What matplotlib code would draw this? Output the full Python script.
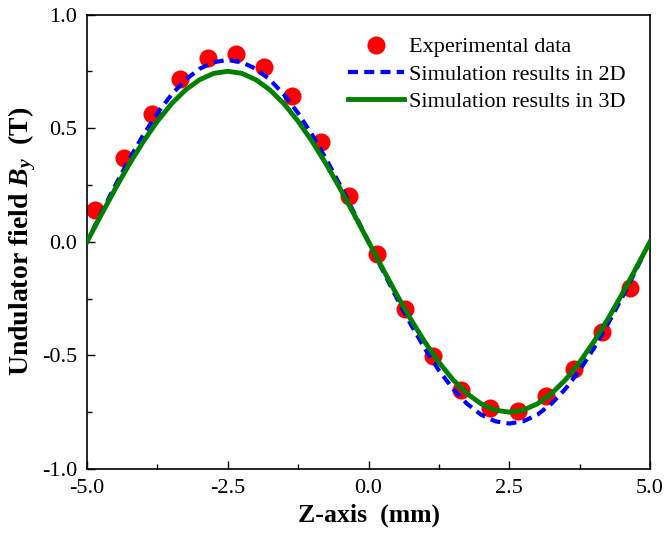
import matplotlib
matplotlib.use('Agg')
import matplotlib.pyplot as plt
from matplotlib.ticker import MultipleLocator

plt.rcParams['font.family'] = ['Liberation Serif', 'DejaVu Serif']
plt.rcParams['mathtext.fontset'] = 'custom'
plt.rcParams['mathtext.rm'] = 'Liberation Serif:bold'
plt.rcParams['mathtext.it'] = 'Liberation Serif:bold:italic'
plt.rcParams['mathtext.bf'] = 'Liberation Serif:bold'

# experimental points
exp_z = [-4.85, -4.35, -3.85, -3.35, -2.85, -2.35, -1.85, -1.35, -0.85, -0.35,
         0.15, 0.65, 1.15, 1.65, 2.15, 2.65, 3.15, 3.65, 4.15, 4.65]
exp_b = [0.14, 0.37, 0.56, 0.715, 0.81, 0.825, 0.77, 0.643, 0.44, 0.203,
         -0.052, -0.297, -0.503, -0.652, -0.733, -0.743, -0.679, -0.56, -0.397, -0.205]

# simulation 2D
sim2d_z = [-4.9, -4.75, -4.5, -4.25, -4.0, -3.75, -3.5, -3.25, -3.0, -2.75, -2.5,
           -2.25, -2.0, -1.75, -1.5, -1.25, -1.0, -0.75, -0.5, -0.25, 0.0,
           0.25, 0.5, 0.75, 1.0, 1.25, 1.5, 1.75, 2.0, 2.25, 2.5,
           2.75, 3.0, 3.25, 3.5, 3.75, 4.0, 4.25, 4.5, 4.75, 4.9]
sim2d_b = [0.05, 0.125, 0.247, 0.363, 0.47, 0.566, 0.647, 0.713, 0.761, 0.79, 0.8,
           0.79, 0.761, 0.713, 0.647, 0.566, 0.47, 0.363, 0.247, 0.125, 0.0,
           -0.125, -0.247, -0.363, -0.47, -0.566, -0.647, -0.713, -0.761, -0.79, -0.8,
           -0.79, -0.761, -0.713, -0.647, -0.566, -0.47, -0.363, -0.247, -0.125, -0.05]

# simulation 3D
sim3d_z = [-5.0, -4.75, -4.5, -4.25, -4.0, -3.75, -3.5, -3.25, -3.0, -2.75, -2.5,
           -2.25, -2.0, -1.75, -1.5, -1.25, -1.0, -0.75, -0.5, -0.25, 0.0,
           0.25, 0.5, 0.75, 1.0, 1.25, 1.5, 1.75, 2.0, 2.25, 2.5,
           2.75, 3.0, 3.25, 3.5, 3.75, 4.0, 4.25, 4.5, 4.75, 5.0]
sim3d_b = [0.0, 0.117, 0.232, 0.341, 0.441, 0.53, 0.607, 0.668, 0.713, 0.741, 0.75,
           0.741, 0.713, 0.668, 0.607, 0.53, 0.441, 0.341, 0.232, 0.117, 0.0,
           -0.117, -0.232, -0.341, -0.441, -0.53, -0.607, -0.668, -0.713, -0.741, -0.75,
           -0.741, -0.713, -0.668, -0.607, -0.53, -0.441, -0.341, -0.232, -0.117, 0.0]

fig = plt.figure(figsize=(6.65, 5.36), dpi=100)
ax = fig.add_axes([87 / 665, 67 / 536, 563 / 665, 454.5 / 536])

ax.plot(exp_z, exp_b, 'o', color='#ff0000', markersize=13, markeredgewidth=0,
        label='Experimental data', zorder=2)
ax.plot(sim2d_z, sim2d_b, color='#0000ff', lw=3, dashes=(2.4, 1.5),
        label='Simulation results in 2D', zorder=3)
ax.plot(sim3d_z, sim3d_b, color='#008000', lw=3.5,
        label='Simulation results in 3D', zorder=4)

ax.set_xlim(-5, 5)
ax.set_ylim(-1, 1)
ax.xaxis.set_major_locator(MultipleLocator(2.5))
ax.xaxis.set_minor_locator(MultipleLocator(1.25))
ax.yaxis.set_major_locator(MultipleLocator(0.5))
ax.yaxis.set_minor_locator(MultipleLocator(0.25))
ax.xaxis.set_major_formatter(matplotlib.ticker.FormatStrFormatter('%.1f'))
ax.yaxis.set_major_formatter(matplotlib.ticker.FormatStrFormatter('%.1f'))
ax.tick_params(which='both', direction='in', width=1, labelsize=16, pad=7)
ax.tick_params(which='major', length=6)
ax.tick_params(which='minor', length=3.3)
for s in ax.spines.values():
    s.set_linewidth(1.2)

ax.set_xlabel('Z-axis  (mm)', fontsize=18.5, fontweight='bold', labelpad=4)
ax.set_ylabel(r'Undulator field $B_y$  (T)', fontsize=20, fontweight='bold', labelpad=3)

ax.legend(loc='upper left', bbox_to_anchor=(0.4636, 0.951), frameon=False,
          fontsize=16, handlelength=2.5, handletextpad=0.25, labelspacing=0.3,
          borderpad=0, borderaxespad=0)

fig.savefig('out.png', dpi=100)
